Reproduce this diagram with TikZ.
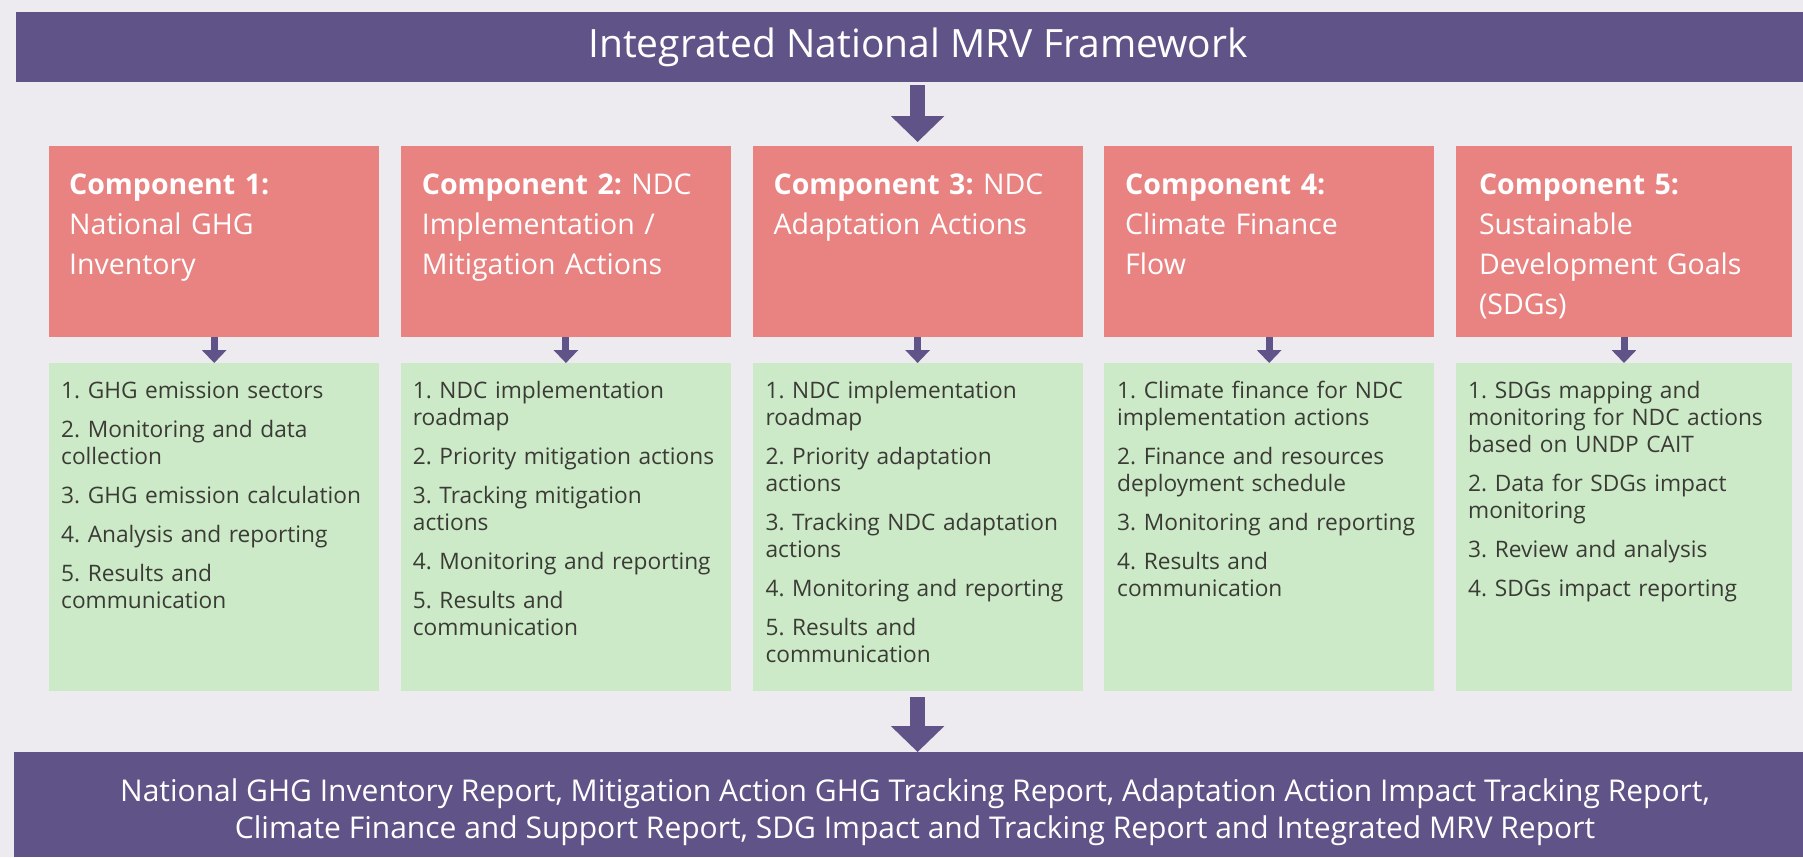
\documentclass[tikz,border=0pt]{standalone}
\usepackage{fontspec}
\setmainfont{Open Sans}
\usetikzlibrary{arrows.meta}
\frenchspacing
\definecolor{bgc}{HTML}{EDEAF0}
\definecolor{mrvpurple}{HTML}{5F5388}
\definecolor{compred}{HTML}{E98382}
\definecolor{stepgreen}{HTML}{CCEAC7}
\definecolor{darktext}{HTML}{3B3B36}
\newcommand\gitem[2]{\setbox0\hbox{#1\ }\hangindent=\wd0 \hangafter=1 \noindent\strut\box0 #2\par}
\newcommand\pitem[1]{\noindent\strut #1\par}
\tikzset{
  barbox/.style={fill=mrvpurple, draw=none, inner sep=0pt, anchor=north west},
  redbox/.style={fill=compred, draw=none, inner sep=0pt, anchor=north west, minimum width=330pt, minimum height=191pt},
  greenbox/.style={fill=stepgreen, draw=none, inner sep=0pt, anchor=north west, minimum width=330pt, minimum height=328pt},
  redtext/.style={anchor=north west, inner sep=0pt, text=white, align=left, text width=320pt, font=\fontsize{28.5}{40}\selectfont},
  greentext/.style={anchor=north west, inner sep=0pt, text=darktext, align=left, text width=325pt, font=\fontsize{22.7}{27}\selectfont},
  bigarrow/.style={draw=mrvpurple, line width=15pt, -{Triangle[width=52pt,length=26pt]}},
  smallarrow/.style={draw=mrvpurple, line width=7pt, -{Triangle[width=24pt,length=13pt]}}
}
\begin{document}
\begin{tikzpicture}[x=1pt,y=-1pt]
\useasboundingbox (0,0) rectangle (1803,857);
\fill[bgc] (0,0) rectangle (1803,857);
% top bar
\node[barbox, minimum width=1787pt, minimum height=70.5pt] (top) at (16,11.5) {};
\node[text=white, inner sep=0pt, font=\fontsize{39}{45}\selectfont] (title) at (918,47) {Integrated National MRV Framework};
% component boxes
\node[redbox] (r1) at (49,146) {};
\node[redbox] (r2) at (400.7,146) {};
\node[redbox] (r3) at (752.4,146) {};
\node[redbox] (r4) at (1104,146) {};
\node[redbox, minimum width=336pt] (r5) at (1455.8,146) {};
\node[greenbox] (g1) at (49,363) {};
\node[greenbox] (g2) at (400.7,363) {};
\node[greenbox] (g3) at (752.4,363) {};
\node[greenbox] (g4) at (1104,363) {};
\node[greenbox, minimum width=336pt] (g5) at (1455.8,363) {};
% red texts
\node[redtext] (rt1) at (69,166) {\strut\textbf{Component 1:}\\National GHG\\Inventory};
\node[redtext] (rt2) at (421.7,166) {\strut\textbf{Component 2:} NDC\\Implementation /\\Mitigation Actions};
\node[redtext] (rt3) at (773.4,166) {\strut\textbf{Component 3:} NDC\\Adaptation Actions};
\node[redtext] (rt4) at (1125,166) {\strut\textbf{Component 4:}\\Climate Finance\\Flow};
\node[redtext] (rt5) at (1478.8,166) {\strut\textbf{Component 5:}\\Sustainable\\Development Goals\\(SDGs)};
% green texts
\node[greentext] (gt1) at (61,379) {\setlength\parskip{12pt}%
\gitem{1.}{GHG emission sectors}%
\gitem{2.}{Monitoring and data\\collection}%
\gitem{3.}{GHG emission calculation}%
\gitem{4.}{Analysis and reporting}%
\gitem{5.}{Results and\\communication}};
\node[greentext] (gt2) at (412.7,379) {\setlength\parskip{12pt}%
\gitem{1.}{NDC implementation\\roadmap}%
\gitem{2.}{Priority mitigation actions}%
\gitem{3.}{Tracking mitigation\\actions}%
\gitem{4.}{Monitoring and reporting}%
\gitem{5.}{Results and\\communication}};
\node[greentext] (gt3) at (765.4,379) {\setlength\parskip{12pt}%
\gitem{1.}{NDC implementation\\roadmap}%
\gitem{2.}{Priority adaptation\\actions}%
\gitem{3.}{Tracking NDC adaptation\\actions}%
\gitem{4.}{Monitoring and reporting}%
\gitem{5.}{Results and\\communication}};
\node[greentext] (gt4) at (1117,379) {\setlength\parskip{12pt}%
\pitem{1. Climate finance for NDC\\implementation actions}%
\pitem{2. Finance and resources\\deployment schedule}%
\pitem{3. Monitoring and reporting}%
\pitem{4. Results and\\communication}};
\node[greentext] (gt5) at (1468,379) {\setlength\parskip{12pt}%
\gitem{1.}{SDGs mapping and\\monitoring for NDC actions\\based on UNDP CAIT}%
\gitem{2.}{Data for SDGs impact\\monitoring}%
\gitem{3.}{Review and analysis}%
\gitem{4.}{SDGs impact reporting}};
% bottom bar
\node[barbox, minimum width=1789pt, minimum height=105pt] (bot) at (14,752) {};
\node[text=white, inner sep=0pt, align=center, font=\fontsize{30}{37}\selectfont] (bottxt) at (915,812) {National GHG Inventory Report, Mitigation Action GHG Tracking Report, Adaptation Action Impact Tracking Report,\\Climate Finance and Support Report, SDG Impact and Tracking Report and Integrated MRV Report};
% arrows
\draw[bigarrow, shorten <=3pt, shorten >=4pt] (top.south -| r3.north) -- (r3.north);
\draw[smallarrow] (r1.south) -- (g1.north);
\draw[smallarrow] (r2.south) -- (g2.north);
\draw[smallarrow] (r3.south) -- (g3.north);
\draw[smallarrow] (r4.south) -- (g4.north);
\draw[smallarrow] (r5.south) -- (g5.north);
\draw[bigarrow, shorten <=6pt] (g3.south) -- (g3.south |- bot.north);
\end{tikzpicture}
\end{document}
